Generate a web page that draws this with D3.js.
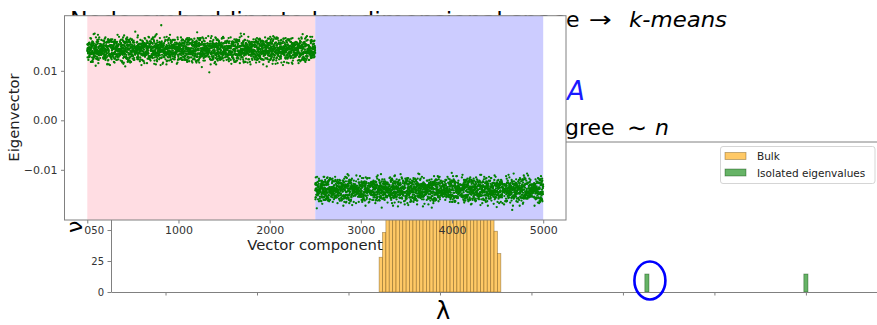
<!DOCTYPE html>
<html>
<head>
<meta charset="utf-8">
<script src="https://cdn.jsdelivr.net/npm/d3@7"></script>
<style>
  body { margin: 0; background: #fff; }
  svg { display: block; font-family: "DejaVu Sans", sans-serif; }
</style>
</head>
<body>
<svg width="877" height="325"></svg>
<script>
// ---- inset: eigenvector components ----
const groupEdges = [0, 2500, 5000];
const groupMeans = [0.01414, -0.01414];
const groupColors = ['#ffdde3', '#ccccff'];
// noise, in units of noiseUnit
const noiseUnit = 0.00013;
const noiseA = [3,-5,8,-2,0,11,-7,4,-9,1,6,-3,-12,7,2,-6,10,-1,5,-8,13,-4,0,9,-10,3,-2,6,-14,8,1,-5,4,-7,12,-3,2,-9,7,0,-6,15,-1,5,-11,3,-4,9,-2,6,-8,1,11,-5,4,-13,2,7,-3,0,-7,10,-2,5,-9,3,8,-6,1,-4,14,-1,6,-10,2,-5,9,-3,4,-8,0,12,-6,3,-2,7,-11,5,-1,8,-4,2,-15,6,-3,10,-7];
const noiseB = [-4,6,1,-9,3,-2,10,-6,5,0,-11,7,-3,2,8,-5,-1,12,-7,4,-2,9,-8,3,0,-13,6,-4,11,1,-6,5,-10,2,7,-3,-1,9,-5,4,-12,3,8,-2,-7,6,0,-4,13,-9,2,5,-1,-6,10,-3,4,-8,1,7,-11,3,-2,6,-5,9,0,-7,2,-3,11,-10,4,1,-6,8,-2,5,-9,3,-1,14,-4,0,6,-8,2,-5,7];
const outliers = [[811, 0.0192], [1338, 0.0097], [4660, -0.0181]];
const insetXTicks = [0, 1000, 2000, 3000, 4000, 5000];
const insetYTicks = [-0.01, 0, 0.01];

// ---- main: spectrum histogram ----
const bulkRange = [-0.665, 0.665];
const bulkCounts = [28, 48, 60, 68, 76, 82, 88, 92, 96, 100, 102, 106, 108, 110, 112, 113, 114, 115,
                    115, 114, 113, 112, 110, 108, 105, 103, 100, 96, 92, 88, 83, 77, 69, 60, 49, 31];
const isolatedValues = [2.262, 4.0];
const isolatedCount = 14.5;
const isolatedWidth = 0.045;
const histXTicks = [-3, -2, -1, 0, 1, 2, 3, 4];
const histYTicks = [0, 25, 50, 75, 100];
const legendLabels = ['Bulk', 'Isolated eigenvalues'];

const svg = d3.select('svg');
const spine = '#808080';

// slide text behind the figure
const slide = svg.append('g').attr('font-size', 22).attr('fill', '#000');
slide.append('text').attr('x', 70).attr('y', 27)
  .attr('textLength', 495).attr('lengthAdjust', 'spacingAndGlyphs')
  .text('Node embedding to low dimensional spac');
slide.append('text').attr('x', 566).attr('y', 27).text('e');
slide.append('text').attr('x', 589).attr('y', 27).attr('textLength', 23).attr('lengthAdjust', 'spacingAndGlyphs').text('→');
slide.append('text').attr('x', 629).attr('y', 27).attr('font-style', 'italic')
  .attr('textLength', 98).attr('lengthAdjust', 'spacingAndGlyphs').text('k-means');
slide.append('text').attr('x', 567).attr('y', 100).attr('font-size', 26)
  .attr('font-style', 'italic').attr('fill', '#1a1aff').text('A');
slide.append('text').attr('x', 565).attr('y', 135).text('gree');
slide.append('text').attr('x', 627).attr('y', 136).attr('font-size', 24).text('∼');
slide.append('text').attr('x', 655).attr('y', 135).attr('font-style', 'italic').text('n');

// ---- histogram ----
const hx = d3.scaleLinear().domain([-3.596, 4.81]).range([111, 880]);
const hy = d3.scaleLinear().domain([0, 121]).range([292, 142]);
const hist = svg.append('g');

const binW = (bulkRange[1] - bulkRange[0]) / bulkCounts.length;
hist.append('g').selectAll('rect').data(bulkCounts).join('rect')
  .attr('x', (d, i) => hx(bulkRange[0] + i * binW))
  .attr('width', hx(binW) - hx(0))
  .attr('y', d => hy(d))
  .attr('height', d => hy(0) - hy(d))
  .attr('fill', '#ffc966')
  .attr('stroke', 'rgba(90,60,0,0.45)').attr('stroke-width', 0.8);

hist.append('g').selectAll('rect').data(isolatedValues).join('rect')
  .attr('x', d => hx(d - isolatedWidth / 2))
  .attr('width', hx(isolatedWidth) - hx(0))
  .attr('y', hy(isolatedCount))
  .attr('height', hy(0) - hy(isolatedCount))
  .attr('fill', '#66b366')
  .attr('stroke', 'rgba(0,60,0,0.45)').attr('stroke-width', 0.8);

const hxAxis = hist.append('g').attr('transform', `translate(0,${hy(0)})`)
  .call(d3.axisBottom(hx).tickValues(histXTicks).tickFormat('').tickSizeInner(3.5).tickSizeOuter(0));
const hyAxis = hist.append('g').attr('transform', `translate(${hx.range()[0]},0)`)
  .call(d3.axisLeft(hy).tickValues(histYTicks).tickSizeInner(3.5).tickSizeOuter(0).tickPadding(3.5));
hist.append('line').attr('x1', 111).attr('x2', 880).attr('y1', 142).attr('y2', 142).attr('stroke', spine);
[hxAxis, hyAxis].forEach(a => {
  a.select('.domain').attr('stroke', spine);
  a.selectAll('.tick line').attr('stroke', spine);
  a.selectAll('.tick text').attr('font-size', 10).attr('fill', '#333').attr('font-family', 'DejaVu Sans');
});

hist.append('text').attr('transform', 'translate(82,233) rotate(-90)')
  .attr('font-size', 22).attr('fill', '#000').text('ν(λ)');
hist.append('text').attr('x', 443).attr('y', 319).attr('text-anchor', 'middle')
  .attr('font-size', 24).attr('fill', '#000').text('λ');

// legend
const legend = svg.append('g').attr('transform', 'translate(720.5,146.5)');
legend.append('rect').attr('width', 154.5).attr('height', 37).attr('rx', 2.5)
  .attr('fill', 'rgba(255,255,255,0.8)').attr('stroke', '#d5d5d5');
const legendFill = ['#ffc966', '#66b366'];
const legendStroke = ['rgba(90,60,0,0.45)', 'rgba(0,60,0,0.45)'];
legendLabels.forEach((lab, i) => {
  legend.append('rect').attr('x', 4.5).attr('y', 6 + i * 16.5).attr('width', 21).attr('height', 7)
    .attr('fill', legendFill[i]).attr('stroke', legendStroke[i]).attr('stroke-width', 0.8);
  legend.append('text').attr('x', 36.5).attr('y', 13.5 + i * 16.5)
    .attr('font-size', 10.5).attr('fill', '#222').text(lab);
});

// highlight ring round the first isolated eigenvalue
svg.append('ellipse').attr('cx', hx(isolatedValues[0]) + 3).attr('cy', 280.5)
  .attr('rx', 15.5).attr('ry', 19).attr('fill', 'none')
  .attr('stroke', '#0000ff').attr('stroke-width', 2.6);

// ---- inset ----
const ix = d3.scaleLinear().domain([-250, 5250]).range([64.5, 566]);
const iy = d3.scaleLinear().domain([-0.02014, 0.02113]).range([220, 15.7]);
const inset = svg.append('g');

inset.append('rect').attr('x', 64.5).attr('y', 15.7).attr('width', 566 - 64.5).attr('height', 220 - 15.7)
  .attr('fill', '#fff');
inset.append('g').selectAll('rect').data(groupMeans).join('rect')
  .attr('x', (d, i) => ix(groupEdges[i]))
  .attr('width', (d, i) => ix(groupEdges[i + 1]) - ix(groupEdges[i]))
  .attr('y', 15.7).attr('height', 220 - 15.7)
  .attr('fill', (d, i) => groupColors[i]);

const components = d3.range(groupEdges[2]).map(i => {
  const g = i < groupEdges[1] ? 0 : 1;
  return [i, groupMeans[g] + (noiseA[i % noiseA.length] + noiseB[i % noiseB.length]) * noiseUnit];
});
outliers.forEach(([i, v]) => { components[i][1] = v; });

inset.append('g').selectAll('circle').data(components).join('circle')
  .attr('cx', d => ix(d[0])).attr('cy', d => iy(d[1])).attr('r', 1.15)
  .attr('fill', '#008000');

inset.append('rect').attr('x', 64.5).attr('y', 15.7).attr('width', 566 - 64.5).attr('height', 220 - 15.7)
  .attr('fill', 'none').attr('stroke', spine);

const ixAxis = inset.append('g').attr('transform', 'translate(0,220)')
  .call(d3.axisBottom(ix).tickValues(insetXTicks).tickFormat(d3.format('d')).tickSizeInner(3.5).tickSizeOuter(0).tickPadding(3));
const iyAxis = inset.append('g').attr('transform', 'translate(64.5,0)')
  .call(d3.axisLeft(iy).tickValues(insetYTicks).tickFormat(d3.format('.2f')).tickSizeInner(3.5).tickSizeOuter(0).tickPadding(3.5));
[ixAxis, iyAxis].forEach(a => {
  a.select('.domain').remove();
  a.selectAll('.tick line').attr('stroke', spine);
  a.selectAll('.tick text').attr('font-size', 11).attr('fill', '#333').attr('font-family', 'DejaVu Sans');
});

inset.append('text').attr('x', 315).attr('y', 250).attr('text-anchor', 'middle')
  .attr('font-size', 14.8).attr('fill', '#222').text('Vector component');
inset.append('text').attr('transform', 'translate(19,117.5) rotate(-90)').attr('text-anchor', 'middle')
  .attr('font-size', 14.8).attr('fill', '#222').text('Eigenvector');
</script>
</body>
</html>
